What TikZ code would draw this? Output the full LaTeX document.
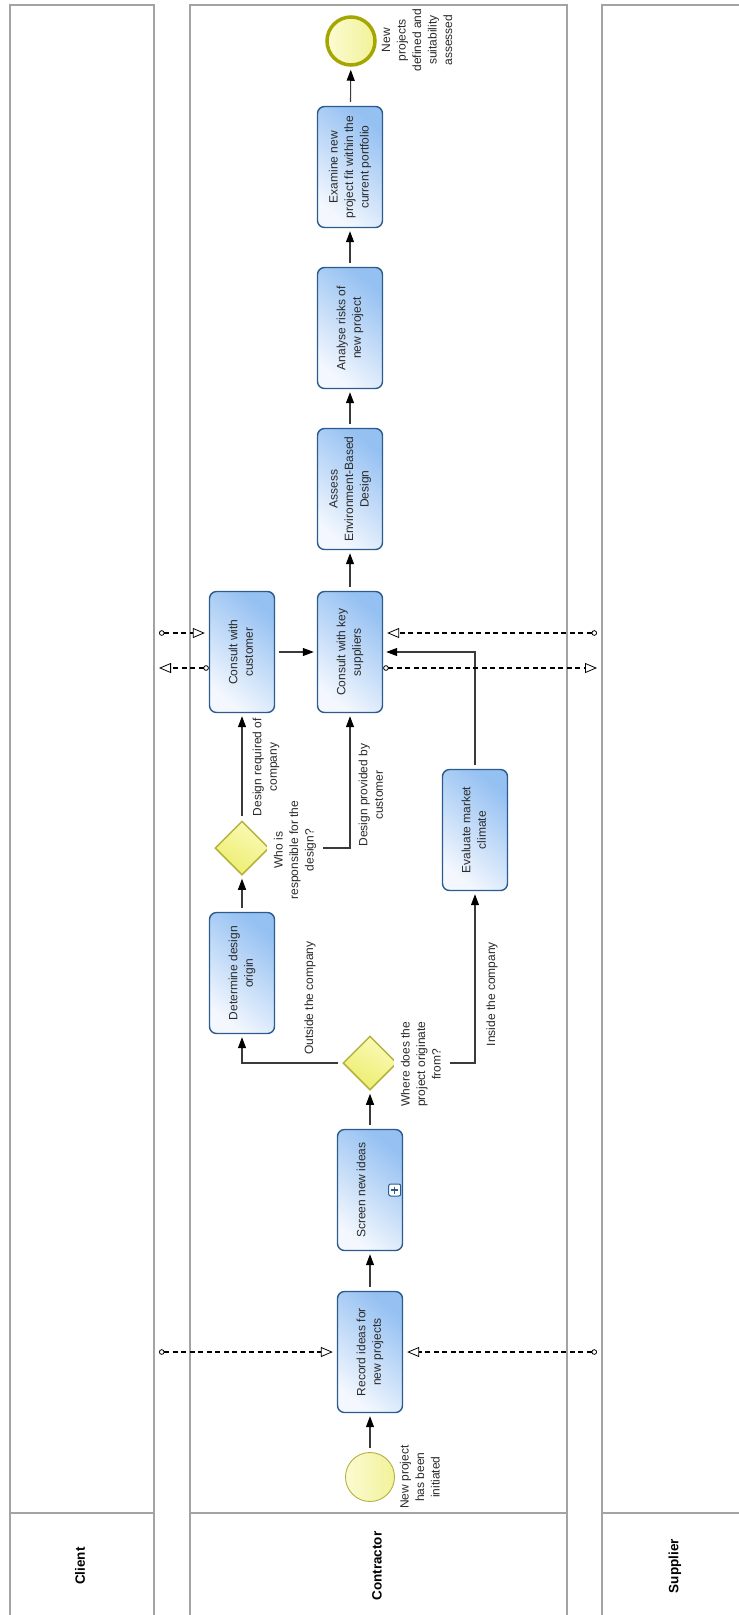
\documentclass[tikz,border=0pt]{standalone}
\usepackage{fontspec}
\setmainfont{Liberation Sans}
\usetikzlibrary{arrows.meta,shapes.geometric,calc}

\definecolor{laneborder}{HTML}{A3A3A3}
\definecolor{taskline}{HTML}{2C5C8E}
\definecolor{taskblue}{HTML}{94C0F2}
\definecolor{tasklight}{HTML}{F4F8FE}
\definecolor{gateyellow}{HTML}{EDED6E}
\definecolor{gatelight}{HTML}{FAFAB8}
\definecolor{gateline}{HTML}{B3B33C}
\definecolor{startfill}{HTML}{F2F29A}
\definecolor{startlight}{HTML}{FBFBD2}
\definecolor{eventline}{HTML}{A6A600}
\definecolor{flowgray}{HTML}{3A3A3A}
\definecolor{textgray}{HTML}{2A2A2A}

% vertical (bottom-to-top) multi-line text
\newcommand\vtext[1]{\rotatebox{90}{\begin{tabular}{@{}c@{}}#1\end{tabular}}}

\begin{document}
\begin{tikzpicture}[x=1pt,y=-1pt,
  lane/.style={draw=laneborder, line width=2.4pt},
  hdr/.style={font=\fontsize{13.5}{16}\selectfont\bfseries, text=black, inner sep=1pt},
  task/.style={rectangle, draw=taskline, line width=1.4pt, rounded corners=7pt,
    minimum width=65pt, minimum height=121pt, inner sep=0pt,
    top color=taskblue, bottom color=tasklight, shading angle=-40,
    font=\fontsize{12}{15.5}\selectfont, text=textgray},
  submark/.style={rectangle, draw=taskline, line width=1pt, fill=white,
    rounded corners=2pt, minimum size=12pt, inner sep=0pt,
    path picture={\draw[taskline, line width=1.3pt]
      ($(path picture bounding box.center)+(-3.5,0)$) -- ++(7,0)
      ($(path picture bounding box.center)+(0,-3.5)$) -- ++(0,7);}},
  gate/.style={diamond, minimum width=54pt, minimum height=54pt, inner sep=0pt,
    draw=gateline, line width=1.5pt, top color=gatelight, bottom color=gateyellow,
    shading angle=-30},
  startev/.style={circle, minimum size=49pt, inner sep=0pt, draw=gateline,
    line width=0.9pt, left color=startlight, right color=startfill},
  endev/.style={circle, minimum size=48pt, inner sep=0pt, draw=eventline,
    line width=3.5pt, left color=startlight, right color=startfill},
  lbl/.style={font=\fontsize{12}{15.5}\selectfont, text=textgray, inner sep=1pt},
  glbl/.style={lbl, fill=white, inner xsep=5pt, inner ysep=2pt},
  seq/.style={draw=flowgray, line width=1.1pt,
    -{Triangle[length=11pt,width=8pt,color=black]}, shorten >=3pt, shorten <=4pt},
  msg/.style={draw=black, line width=1.1pt, dash pattern=on 5pt off 3.5pt,
    {Circle[open,length=5.5pt,width=5.5pt,line width=0.8pt]}-{Triangle[open,length=12pt,width=10pt,line width=0.8pt]}},
  msgin/.style={msg, shorten >=4pt}
]
\useasboundingbox (0,0) rectangle (739,1615);
\clip (0,0) rectangle (739,1615);
\fill[white] (0,0) rectangle (739,1615);

% pools: Client, Contractor, Supplier
\draw[lane] (10,5) rectangle (154,1640);
\draw[lane] (10,1513) -- (154,1513);
\draw[lane] (190,5) rectangle (567,1640);
\draw[lane] (190,1513) -- (567,1513);
\draw[lane] (602,5) rectangle (780,1640);
\draw[lane] (602,1513) -- (780,1513);

\node[hdr] (hcl) at (80,1566) {\rotatebox{90}{Client}};
\node[hdr] (hco) at (377,1566) {\rotatebox{90}{Contractor}};
\node[hdr] (hsu) at (675,1566) {\rotatebox{90}{Supplier}};

% events
\node[startev] (st) at (370,1477) {};
\node[endev] (en) at (351,41) {};

% tasks
\node[task] (rec) at (370,1352) {\vtext{Record ideas for\\new projects}};
\node[task] (scr) at (370,1190) {\vtext{Screen new ideas\\\mbox{}}};
\node[submark] (scrm) at ($(scr.east)+(-8.5,0)$) {};
\node[task] (det) at (242,973) {\vtext{Determine design\\origin}};
\node[task] (cc) at (242,652) {\vtext{Consult with\\customer}};
\node[task] (cks) at (350,652) {\vtext{Consult with key\\suppliers}};
\node[task] (eva) at (475,830) {\vtext{Evaluate market\\climate}};
\node[task] (ass) at (350,489) {\vtext{Assess\\Environment-Based\\Design}};
\node[task] (ana) at (350,328) {\vtext{Analyse risks of\\new project}};
\node[task] (exa) at (350,167) {\vtext{Examine new\\project fit within the\\current portfolio}};

% gateways
\node[gate] (g1) at (370,1063) {};
\node[gate] (g2) at (242,848) {};

% sequence flows
\draw[seq] (st) -- (rec);
\draw[seq] (rec) -- (scr);
\draw[seq] (scr) -- (g1);
\draw[seq] (g1.west) -| (det.south);
\draw[seq] (g1.east) -| (eva.south);
\draw[seq] (det) -- (g2);
\draw[seq] (g2) -- (cc);
\draw[seq] (g2.east) -| (cks.south);
\draw[seq] (cc) -- (cks);
\draw[seq] (eva.north) |- (cks.east);
\draw[seq] (cks) -- (ass);
\draw[seq] (ass) -- (ana);
\draw[seq] (ana) -- (exa);
\draw[seq] (exa) -- (en);

% message flows
\coordinate (cl1) at (159,1352);
\coordinate (su1) at (597,1352);
\coordinate (cl2) at (159,633);
\coordinate (cl3) at (159,668);
\coordinate (su2) at (597,633);
\coordinate (su3) at (597,668);
\draw[msgin] (cl1) -- (rec.west);
\draw[msgin] (su1) -- (rec.east);
\draw[msgin] (cl2) -- (cc.west |- cl2);
\draw[msg] (cc.west |- cl3) -- (cl3);
\draw[msgin] (su2) -- (cks.east |- su2);
\draw[msg] (cks.east |- su3) -- (su3);

% labels
\node[lbl] (stlab) at (421,1477) {\vtext{New project\\has been\\initiated}};
\node[lbl] (enlab) at (418,40) {\vtext{New\\projects\\defined and\\suitability\\assessed}};
\node[glbl] (g1lab) at (422,1064) {\vtext{Where does the\\project originate\\from?}};
\node[glbl] (g2lab) at (295,850) {\vtext{Who is\\responsible for the\\design?}};
\node[lbl] (lreq) at (266,767) {\vtext{Design required of\\company}};
\node[lbl] (lprov) at (372,795) {\vtext{Design provided by\\customer}};
\node[lbl] (lout) at (310,998) {\vtext{Outside the company}};
\node[lbl] (lin) at (492,994) {\vtext{Inside the company}};
\end{tikzpicture}
\end{document}
